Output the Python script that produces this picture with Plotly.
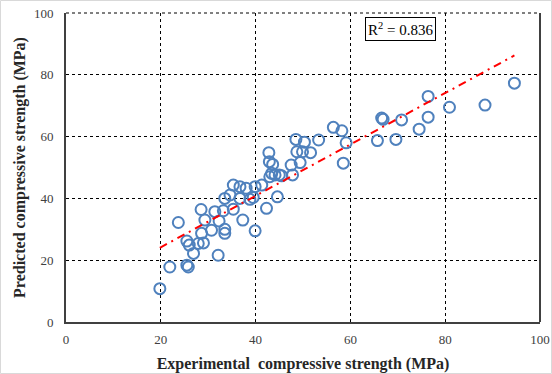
import plotly.graph_objects as go
import numpy as np

experimental = [19.8, 21.9, 23.7, 25.5, 25.5, 25.8, 26.0, 26.9, 27.9, 28.6, 29.0, 28.5, 29.3, 31.4, 30.7,
                32.1, 32.3, 33.5, 33.5, 33.2, 33.5, 34.6, 35.3, 35.3, 36.7, 36.7, 37.3, 38.0, 38.8, 39.9,
                39.9, 39.5, 41.3, 42.3, 44.6, 43.0, 43.4, 44.1, 45.0, 45.5, 42.9, 43.6, 42.8, 47.5, 47.8,
                48.5, 48.7, 49.9, 50.3, 49.4, 51.6, 53.3, 56.4, 58.2, 59.1, 58.5, 65.7, 66.6, 66.9, 69.6,
                70.8, 74.5, 76.4, 76.4, 80.9, 88.4, 94.6]
predicted = [10.8, 17.8, 32.2, 26.2, 18.4, 17.8, 24.9, 22.2, 25.4, 28.7, 25.6, 36.4, 33.0, 35.7, 29.7,
             21.6, 32.7, 30.0, 28.7, 36.0, 40.0, 41.1, 36.5, 44.3, 43.8, 40.0, 33.0, 43.3, 39.7, 43.8,
             29.5, 40.3, 44.3, 36.8, 40.5, 47.0, 48.1, 47.6, 47.6, 47.3, 51.9, 51.0, 54.8, 50.8, 47.6,
             59.1, 55.1, 55.1, 58.2, 51.6, 54.8, 58.9, 63.0, 61.9, 58.0, 51.4, 58.7, 66.0, 65.6, 59.1,
             65.4, 62.4, 66.3, 73.0, 69.5, 70.2, 77.3]

fit_slope = 0.832
fit_intercept = 7.55
r2_text = "R<sup>2</sup> = 0.836"
tick_vals = [0, 20, 40, 60, 80, 100]

fx = np.array([min(experimental), max(experimental)])
fy = fit_slope * fx + fit_intercept

serif = "Liberation Serif, Times New Roman, serif"

fig = go.Figure()
fig.add_trace(go.Scatter(
    x=experimental, y=predicted, mode="markers",
    marker=dict(symbol="circle-open", size=11, color="#4F81BD", line=dict(width=2, color="#4F81BD")),
    showlegend=False, hoverinfo="skip"))
fig.add_trace(go.Scatter(
    x=fx, y=fy, mode="lines",
    line=dict(color="#FF0000", width=2, dash="8px,5px,2px,5px"),
    showlegend=False, hoverinfo="skip"))

axis_common = dict(
    range=[0, 100], tickvals=tick_vals, showgrid=True, automargin=False,
    gridcolor="#000000", gridwidth=1, griddash="dot",
    zeroline=False, showline=True, linecolor="#404040", linewidth=2,
    ticks="outside", tickcolor="rgba(0,0,0,0)",
    tickfont=dict(family=serif, size=13, color="#404040"),
)

fig.update_xaxes(**axis_common, ticklen=4, mirror=False,
                 title=dict(text="<b>Experimental  compressive strength (MPa)</b>",
                            font=dict(family=serif, size=16, color="#262626"), standoff=12))
fig.update_yaxes(**axis_common, ticklen=8, mirror=False,
                 title=dict(text="<b>Predicted compressive strength (MPa)</b>",
                            font=dict(family=serif, size=16, color="#262626"), standoff=4))

fig.add_annotation(x=0.705, y=0.986, xref="paper", yref="paper", text=r2_text, showarrow=False,
                   font=dict(family=serif, size=15, color="#000000"),
                   bordercolor="#000000", borderwidth=1, borderpad=2, bgcolor="white",
                   xanchor="center", yanchor="top")

# top dotted gridline and right frame line
fig.add_shape(type="line", xref="paper", yref="paper", x0=0, x1=1, y0=1, y1=1,
              line=dict(color="#000000", width=1, dash="dot"), layer="below")
fig.add_shape(type="line", xref="paper", yref="paper", x0=1, x1=1, y0=0, y1=1,
              line=dict(color="#404040", width=2))
# outer chart border
fig.add_shape(type="rect", xref="paper", yref="paper", x0=-0.1382, x1=1.0243, y0=-0.1667, y1=1.0405,
              line=dict(color="#D9D9D9", width=1))

fig.update_layout(
    width=552, height=374,
    margin=dict(l=66, r=12, t=13, b=52, autoexpand=False),
    plot_bgcolor="white", paper_bgcolor="white",
)

fig.write_html("out.html", config={"displayModeBar": False},
               post_script="document.body.style.margin='0';document.body.style.overflow='hidden';")
